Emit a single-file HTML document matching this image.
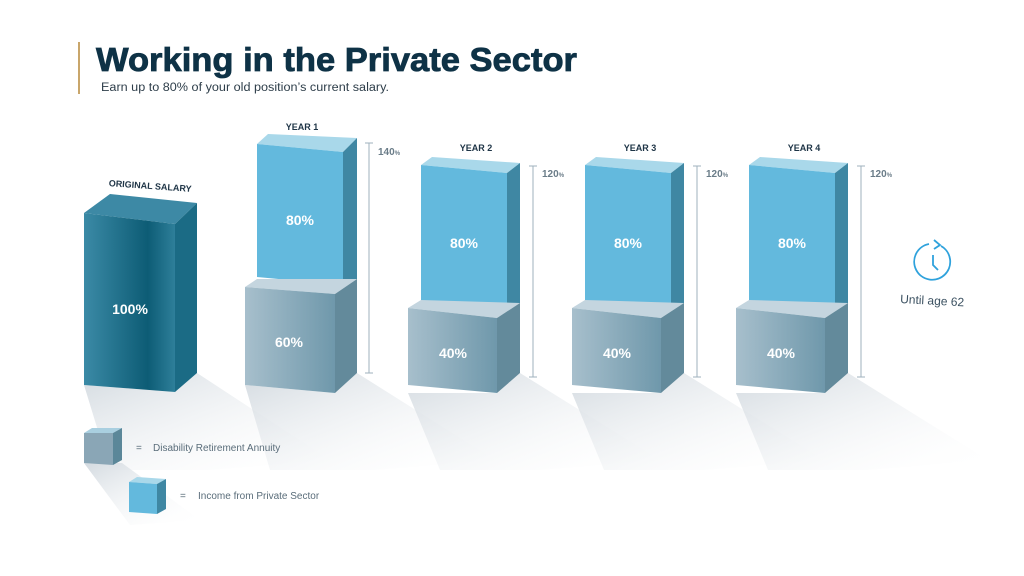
<!DOCTYPE html>
<html><head><meta charset="utf-8"><style>
html,body{margin:0;padding:0;background:#fff;}
svg{display:block;}
.n{font-family:"Liberation Sans",sans-serif;font-weight:bold;fill:#fff;font-size:14px;text-anchor:middle;}
.h{font-family:"Liberation Sans",sans-serif;font-weight:bold;fill:#1e3446;font-size:9px;text-anchor:middle;}
.p{font-family:"Liberation Sans",sans-serif;fill:#5a6d7a;font-size:10px;}
</style></head><body>
<svg width="1024" height="576" viewBox="0 0 1024 576">
<defs>
<linearGradient id="dk" x1="0" x2="1"><stop offset="0" stop-color="#3b8aa6"/><stop offset="0.7" stop-color="#0d5c75"/><stop offset="1" stop-color="#2e7f9a"/></linearGradient>
<linearGradient id="gr" x1="0" x2="1"><stop offset="0" stop-color="#a7bfcc"/><stop offset="1" stop-color="#6f98ab"/></linearGradient>
<linearGradient id="sh" x1="0" y1="0" x2="1" y2="1"><stop offset="0" stop-color="#d3dae0"/><stop offset="1" stop-color="#ffffff" stop-opacity="0"/></linearGradient>
<g id="stk">
<polygon points="408,393 497,393 520,373 660,460 540,470 440,470" fill="url(#sh)"/>
<polygon points="421,165 432,157 520,163 507,173" fill="#a9d8ea"/>
<polygon points="421,165 507,173 507,310 421,302" fill="#63b9dd"/>
<polygon points="507,173 520,163 520,303 507,310" fill="#3f87a3"/>
<polygon points="408,308 421,300 520,303 497,318" fill="#c4d5df"/>
<polygon points="408,308 497,318 497,393 408,385" fill="url(#gr)"/>
<polygon points="497,318 520,303 520,373 497,393" fill="#638a9b"/>
<text class="n" x="464" y="248">80%</text>
<text class="n" x="453" y="358">40%</text>
<line x1="533" y1="166" x2="533" y2="377" stroke="#9fb2bd" stroke-width="1"/>
<line x1="529" y1="166" x2="537" y2="166" stroke="#9fb2bd"/>
<line x1="529" y1="377" x2="537" y2="377" stroke="#9fb2bd"/>
<text class="p" x="542" y="177" style="font-weight:bold;fill:#6a7c88">120<tspan font-size="6">%</tspan></text>
</g>
</defs>
<rect x="78" y="42" width="2" height="52" fill="#c9a66b"/>
<text x="96" y="71" textLength="481" lengthAdjust="spacingAndGlyphs" style="font-family:'Liberation Sans',sans-serif;font-weight:bold;font-size:33px;fill:#0e3246;stroke:#0e3246;stroke-width:0.8">Working in the Private Sector</text>
<text x="101" y="91" textLength="288" lengthAdjust="spacingAndGlyphs" style="font-family:'Liberation Sans',sans-serif;font-size:11.5px;fill:#2e3e4a">Earn up to 80% of your old position’s current salary.</text>

<!-- original -->
<polygon points="84,385 175,392 197,373 330,460 210,470 110,470" fill="url(#sh)"/>
<polygon points="84,213 110,194 197,203 175,224" fill="#3d89a5"/>
<polygon points="84,213 175,224 175,392 84,385" fill="url(#dk)"/>
<polygon points="175,224 197,203 197,373 175,392" fill="#1b6b85"/>
<text class="n" x="130" y="314">100%</text>
<text class="h" x="150" y="189" transform="rotate(4 150 189)">ORIGINAL SALARY</text>

<!-- year 1 -->
<polygon points="245,385 335,393 357,373 495,460 375,470 270,470" fill="url(#sh)"/>
<polygon points="257,144 268,134 357,138 343,152" fill="#a9d8ea"/>
<polygon points="257,144 343,152 343,285 257,277" fill="#63b9dd"/>
<polygon points="343,152 357,138 357,279 343,285" fill="#3f87a3"/>
<polygon points="245,287 257,279 357,279 335,294" fill="#c4d5df"/>
<polygon points="245,287 335,294 335,393 245,385" fill="url(#gr)"/>
<polygon points="335,294 357,279 357,373 335,393" fill="#638a9b"/>
<text class="n" x="300" y="225">80%</text>
<text class="n" x="289" y="347">60%</text>
<line x1="369" y1="143" x2="369" y2="373" stroke="#9fb2bd"/>
<line x1="365" y1="143" x2="373" y2="143" stroke="#9fb2bd"/>
<line x1="365" y1="373" x2="373" y2="373" stroke="#9fb2bd"/>
<text class="p" x="378" y="155" style="font-weight:bold;fill:#6a7c88">140<tspan font-size="6">%</tspan></text>
<text class="h" x="302" y="130">YEAR 1</text>

<use href="#stk"/>
<text class="h" x="476" y="151">YEAR 2</text>
<use href="#stk" transform="translate(164,0)"/>
<text class="h" x="640" y="151">YEAR 3</text>
<use href="#stk" transform="translate(328,0)"/>
<text class="h" x="804" y="151">YEAR 4</text>

<!-- clock -->
<path d="M941,246 A18,18 0 1 1 929,244" fill="none" stroke="#2fa2dc" stroke-width="1.8"/>
<path d="M934,240 L940,245 L934,249" fill="none" stroke="#2fa2dc" stroke-width="1.8"/>
<path d="M933,255 L933,265 L938,270" fill="none" stroke="#2fa2dc" stroke-width="1.8"/>
<text x="900" y="303" transform="rotate(3 900 303)" style="font-family:'Liberation Sans',sans-serif;font-size:12px;fill:#3a5060">Until age 62</text>

<!-- legend -->
<polygon points="84,463 122,463 200,520 130,525" fill="url(#sh)"/>
<polygon points="84,433 92,428 122,428 113,433" fill="#a9cfe0"/>
<polygon points="84,433 113,433 113,465 84,463" fill="#8aa6b6"/>
<polygon points="113,433 122,428 122,460 113,465" fill="#5b8799"/>
<text class="p" x="136" y="451">=</text>
<text class="p" x="153" y="451">Disability Retirement Annuity</text>
<polygon points="129,482 137,477 166,479 157,484" fill="#a9d8ea"/>
<polygon points="129,482 157,484 157,514 129,512" fill="#63b9dd"/>
<polygon points="157,484 166,479 166,509 157,514" fill="#3f87a3"/>
<text class="p" x="180" y="499">=</text>
<text class="p" x="198" y="499">Income from Private Sector</text>
</svg>
</body></html>
